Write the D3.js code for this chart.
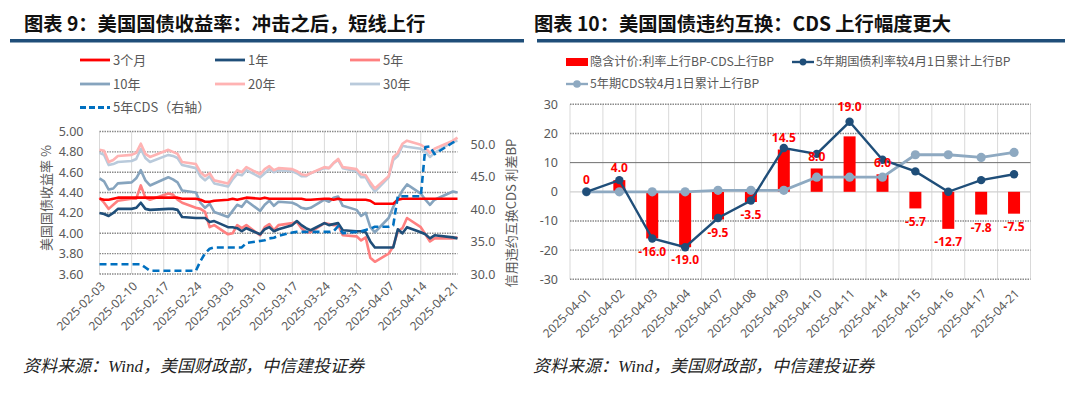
<!DOCTYPE html>
<html>
<head>
<meta charset="utf-8">
<script src="https://cdn.jsdelivr.net/npm/d3@7"></script>
<style>
  body { margin: 0; background: #fff; }
</style>
</head>
<body>
<script>
// ---- left chart: US treasury yields (%), business days ----
const bondDates = [
  '2025-02-03', '2025-02-04', '2025-02-05', '2025-02-06', '2025-02-07',
  '2025-02-10', '2025-02-11', '2025-02-12', '2025-02-13', '2025-02-14',
  '2025-02-18', '2025-02-19', '2025-02-20', '2025-02-21',
  '2025-02-24', '2025-02-25', '2025-02-26', '2025-02-27', '2025-02-28',
  '2025-03-03', '2025-03-04', '2025-03-05', '2025-03-06', '2025-03-07',
  '2025-03-10', '2025-03-11', '2025-03-12', '2025-03-13', '2025-03-14',
  '2025-03-17', '2025-03-18', '2025-03-19', '2025-03-20', '2025-03-21',
  '2025-03-24', '2025-03-25', '2025-03-26', '2025-03-27', '2025-03-28',
  '2025-03-31', '2025-04-01', '2025-04-02', '2025-04-03', '2025-04-04',
  '2025-04-07', '2025-04-08', '2025-04-09', '2025-04-10', '2025-04-11',
  '2025-04-14', '2025-04-15', '2025-04-16', '2025-04-17',
  '2025-04-21', '2025-04-22'
]
const y3m = [
  4.34, 4.33, 4.33, 4.34, 4.35, 4.35, 4.35, 4.35, 4.35, 4.35, 4.35, 4.35, 4.35, 4.34,
  4.34, 4.33, 4.31, 4.31, 4.32, 4.33, 4.34, 4.33, 4.34, 4.35, 4.34, 4.35, 4.34, 4.34, 4.34,
  4.34, 4.34, 4.34, 4.33, 4.33, 4.34, 4.34, 4.33, 4.34, 4.33, 4.33, 4.33, 4.33, 4.32, 4.29,
  4.29, 4.29, 4.33, 4.34, 4.34, 4.34, 4.34, 4.34, 4.34, 4.34, 4.34
]
const y1y = [
  4.20, 4.19, 4.17, 4.20, 4.24, 4.24, 4.25, 4.30, 4.24, 4.23, 4.24, 4.24, 4.23, 4.16,
  4.15, 4.15, 4.15, 4.11, 4.12, 4.06, 4.06, 4.05, 4.02, 4.05, 3.99, 4.04, 4.06, 4.02, 4.04,
  4.08, 4.12, 4.08, 4.05, 4.03, 4.10, 4.08, 4.09, 4.10, 4.03, 4.02, 4.02, 4.01, 3.92, 3.86,
  3.86, 3.86, 4.04, 4.00, 4.06, 4.01, 3.99, 3.95, 3.98, 3.96, 3.95
]
const y5y = [
  4.35, 4.30, 4.24, 4.28, 4.32, 4.34, 4.34, 4.47, 4.35, 4.33, 4.39, 4.38, 4.33, 4.30,
  4.25, 4.24, 4.21, 4.06, 4.08, 3.99, 4.00, 4.08, 4.05, 4.08, 3.98, 4.06, 4.09, 4.03, 4.08,
  4.10, 4.11, 4.05, 4.01, 4.01, 4.10, 4.09, 4.08, 4.08, 3.98, 3.97, 3.93, 3.96, 3.76, 3.72,
  3.80, 3.87, 4.02, 4.05, 4.15, 4.06, 3.99, 3.92, 3.95, 3.95, 3.96
]
const y10y = [
  4.54, 4.51, 4.43, 4.44, 4.49, 4.50, 4.54, 4.62, 4.52, 4.47, 4.55, 4.53, 4.50, 4.42,
  4.40, 4.30, 4.25, 4.29, 4.21, 4.16, 4.22, 4.28, 4.26, 4.32, 4.22, 4.28, 4.32, 4.27, 4.31,
  4.30, 4.28, 4.25, 4.24, 4.25, 4.33, 4.31, 4.35, 4.36, 4.27, 4.23, 4.17, 4.20, 4.06, 4.01,
  4.15, 4.26, 4.34, 4.42, 4.48, 4.39, 4.33, 4.28, 4.33, 4.41, 4.40
]
const y20y = [
  4.82, 4.81, 4.70, 4.72, 4.76, 4.77, 4.79, 4.88, 4.78, 4.75, 4.82, 4.80, 4.78, 4.70,
  4.68, 4.60, 4.56, 4.59, 4.52, 4.49, 4.56, 4.62, 4.60, 4.65, 4.58, 4.63, 4.66, 4.62, 4.64,
  4.63, 4.61, 4.58, 4.57, 4.59, 4.65, 4.64, 4.69, 4.73, 4.65, 4.63, 4.58, 4.57, 4.50, 4.44,
  4.56, 4.75, 4.79, 4.88, 4.91, 4.87, 4.84, 4.79, 4.83, 4.91, 4.94
]
const y30y = [
  4.79, 4.77, 4.67, 4.68, 4.70, 4.71, 4.73, 4.83, 4.74, 4.70, 4.77, 4.76, 4.74, 4.67,
  4.64, 4.56, 4.52, 4.56, 4.49, 4.46, 4.53, 4.58, 4.57, 4.62, 4.55, 4.59, 4.63, 4.60, 4.62,
  4.61, 4.59, 4.56, 4.56, 4.59, 4.64, 4.64, 4.69, 4.72, 4.64, 4.61, 4.55, 4.55, 4.47, 4.41,
  4.55, 4.72, 4.76, 4.86, 4.85, 4.83, 4.80, 4.75, 4.79, 4.90, 4.91
]
// 5y CDS spread, bp (right axis)
const cds5y = [
  31.5, 31.5, 31.5, 31.5, 31.5, 31.5, 31.5, 31.5, 31.0, 30.5, 30.5, 30.5, 30.5, 30.5,
  30.5, 32.0, 33.2, 33.9, 34.1, 34.1, 34.1, 34.1, 34.1, 34.8, 35.1, 35.2, 35.5, 35.6, 35.9,
  36.4, 36.5, 36.5, 36.5, 36.5, 36.5, 36.5, 36.6, 37.4, 36.3, 36.5, 36.6, 36.8, 37.0, 37.3,
  37.3, 37.5, 42.0, 42.0, 42.0, 42.0, 49.6, 49.7, 48.5, 50.3, 50.6
]
const weekTicks = [
  '2025-02-03', '2025-02-10', '2025-02-17', '2025-02-24', '2025-03-03', '2025-03-10',
  '2025-03-17', '2025-03-24', '2025-03-31', '2025-04-07', '2025-04-14', '2025-04-21'
]
const yieldTicks = [3.6, 3.8, 4.0, 4.2, 4.4, 4.6, 4.8, 5.0]
const cdsTicks = [30, 35, 40, 45, 50]

// ---- right chart: cumulative change since 2025-04-01, bp ----
const cdsDays = [
  '2025-04-01', '2025-04-02', '2025-04-03', '2025-04-04', '2025-04-07', '2025-04-08', '2025-04-09',
  '2025-04-10', '2025-04-11', '2025-04-14', '2025-04-15', '2025-04-16', '2025-04-17', '2025-04-21'
]
const impliedGap = [0, 4.0, -16.0, -19.0, -9.5, -3.5, 14.5, 8.0, 19.0, 6.0, -5.7, -12.7, -7.8, -7.5]
const rateChange = [0, 4, -16, -19, -9, -3, 15, 13, 24, 11, 7, 0, 4, 6]
const cdsChange = [0, 0, 0, 0, 0.5, 0.5, 0.5, 5, 5, 5, 12.7, 12.7, 11.8, 13.5]
const bpTicks = [-30, -20, -10, 0, 10, 20, 30]

const svg = d3.select('body').append('svg').attr('width', 1080).attr('height', 395)
const parse = d3.timeParse('%Y-%m-%d')
const fmt = d3.formatLocale({ decimal: '.', thousands: ',', grouping: [3], currency: ['', ''], minus: '-' }).format
const gray = '#595959'
const cjk = '"Noto Sans CJK SC", sans-serif'
const num = '"Noto Sans", "Noto Sans CJK SC", sans-serif'

// titles with the blue rule under them
function header (x, x0, x1, title) {
  svg.append('text')
    .attr('x', x).attr('y', 31)
    .attr('font-family', cjk).attr('font-weight', 700).attr('font-size', 19.3)
    .attr('fill', '#111')
    .text(title)
  svg.append('rect')
    .attr('x', x0).attr('y', 39).attr('width', x1 - x0).attr('height', 3.5)
    .attr('fill', '#1F4E79')
}
header(24, 10, 524, '图表 9：美国国债收益率：冲击之后，短线上行')
header(534, 537, 1065, '图表 10：美国国债违约互换：CDS 上行幅度更大')

function footer (x) {
  svg.append('text')
    .attr('x', x).attr('y', 372)
    .attr('font-family', '"Liberation Serif", "Noto Sans CJK SC", serif')
    .attr('font-style', 'italic').attr('font-size', 17)
    .attr('fill', '#222')
    .text('资料来源：Wind，美国财政部，中信建投证券')
}
footer(23)
footer(533)

function dotted (sel) {
  return sel.attr('stroke', '#8a8a8a').attr('stroke-width', 1.4).attr('stroke-dasharray', '1.5,1')
}

// ================= left chart =================
const lx0 = 99.5, lx1 = 457.5, ly0 = 131.5, ly1 = 274
const xL = d3.scaleTime().domain(d3.extent(bondDates, parse)).range([lx0, lx1])
const yL = d3.scaleLinear().domain([3.6, 5.0]).range([ly1, ly0])
const yR = d3.scaleLinear().domain([30, 52]).range([ly1, ly0])

const gl = svg.append('g')

gl.selectAll('.vgrid')
  .data(weekTicks)
  .enter().append('line')
    .attr('x1', d => xL(parse(d))).attr('x2', d => xL(parse(d)))
    .attr('y1', ly0).attr('y2', ly1)
    .attr('stroke', '#d9d9d9').attr('stroke-width', 1)

gl.selectAll('.hgrid')
  .data(yieldTicks)
  .enter().append('line')
    .attr('x1', lx0).attr('x2', lx1)
    .attr('y1', d => yL(d)).attr('y2', d => yL(d))
    .call(dotted)

gl.append('g')
    .attr('transform', 'translate(' + lx0 + ',0)')
    .call(d3.axisLeft(yL).tickValues(yieldTicks).tickFormat(d3.format('.2f')).tickSize(0).tickPadding(16))
    .attr('font-family', num).attr('font-size', 12.5).attr('color', gray)
    .call(g => g.select('.domain').remove())

gl.append('g')
    .attr('transform', 'translate(' + lx1 + ',0)')
    .call(d3.axisRight(yR).tickValues(cdsTicks).tickFormat(d3.format('.1f')).tickSize(0).tickPadding(13))
    .attr('font-family', num).attr('font-size', 12.5).attr('color', gray)
    .call(g => g.select('.domain').remove())

gl.append('g')
    .attr('transform', 'translate(0,' + ly1 + ')')
    .call(d3.axisBottom(xL).tickValues(weekTicks.map(parse)).tickFormat(d3.timeFormat('%Y-%m-%d')).tickSize(0))
    .attr('font-family', num).attr('font-size', 12).attr('color', gray)
    .call(g => g.select('.domain').remove())
  .selectAll('text')
    .attr('y', 0).attr('dy', '0.35em')
    .attr('text-anchor', 'end')
    .attr('transform', 'translate(3,10) rotate(-45)')

gl.append('text')
  .attr('transform', 'translate(46,198) rotate(-90)')
  .attr('text-anchor', 'middle').attr('dy', '0.35em')
  .attr('font-family', cjk).attr('font-size', 13).attr('fill', gray)
  .text('美国国债收益率 %')

gl.append('text')
  .attr('transform', 'translate(511,213) rotate(-90)')
  .attr('text-anchor', 'middle').attr('dy', '0.35em')
  .attr('font-family', cjk).attr('font-size', 13).attr('fill', gray)
  .text('信用违约互换CDS 利差BP')

const bondSeries = [
  { name: '30年', values: y30y, color: '#B9CADB', y: yL },
  { name: '20年', values: y20y, color: '#FFB3B3', y: yL },
  { name: '10年', values: y10y, color: '#86A4BE', y: yL },
  { name: '5年', values: y5y, color: '#FF8080', y: yL },
  { name: '1年', values: y1y, color: '#1F4E79', y: yL },
  { name: '3个月', values: y3m, color: '#FF0000', y: yL },
  { name: '5年CDS（右轴）', values: cds5y, color: '#0070C0', y: yR, dash: '7,4' }
]

bondSeries.forEach(function (s) {
  const line = d3.line()
    .x(function (d, i) { return xL(parse(bondDates[i])) })
    .y(function (d) { return s.y(d) })
  gl.append('path')
    .attr('d', line(s.values))
    .attr('fill', 'none')
    .attr('stroke', s.color)
    .attr('stroke-width', 2.6)
    .attr('stroke-linejoin', 'round')
    .attr('stroke-dasharray', s.dash || null)
})

// legend, in the source order
const legendOrder = ['3个月', '1年', '5年', '10年', '20年', '30年', '5年CDS（右轴）']
const legendCols = [80, 215, 350]
const legendRows = [60, 84, 107.5]
legendOrder.forEach(function (name, i) {
  const s = bondSeries.find(function (d) { return d.name === name })
  const lx = legendCols[i % 3]
  const ly = legendRows[Math.floor(i / 3)]
  gl.append('line')
    .attr('x1', lx).attr('x2', lx + 30).attr('y1', ly).attr('y2', ly)
    .attr('stroke', s.color).attr('stroke-width', 2.8)
    .attr('stroke-dasharray', s.dash ? '6,3' : null)
  gl.append('text')
    .attr('x', lx + 33).attr('y', ly).attr('dy', '0.35em')
    .attr('font-family', cjk).attr('font-size', 13).attr('fill', gray)
    .text(name)
})

// ================= right chart =================
const rx0 = 570, rx1 = 1030.5, ry0 = 104.3, ry1 = 279.3
const xB = d3.scaleBand().domain(cdsDays).range([rx0, rx1])
const yB = d3.scaleLinear().domain([-30, 30]).range([ry1, ry0])
const cx = function (d) { return xB(d) + xB.bandwidth() / 2 }

const gr = svg.append('g')

gr.selectAll('.vgrid')
  .data(cdsDays.map(xB).concat([rx1]))
  .enter().append('line')
    .attr('x1', d => d).attr('x2', d => d)
    .attr('y1', ry0).attr('y2', ry1)
    .attr('stroke', '#d9d9d9').attr('stroke-width', 1)

bpTicks.forEach(function (v) {
  const l = gr.append('line')
    .attr('x1', rx0).attr('x2', rx1).attr('y1', yB(v)).attr('y2', yB(v))
  if (v === 0) l.attr('stroke', '#d0d0d0').attr('stroke-width', 1.2)
  else if (v === 10) l.attr('stroke', '#6e6e6e').attr('stroke-width', 1)
  else l.call(dotted)
})

gr.append('g')
    .attr('transform', 'translate(' + rx0 + ',0)')
    .call(d3.axisLeft(yB).tickValues(bpTicks).tickFormat(fmt('d')).tickSize(0).tickPadding(12))
    .attr('font-family', num).attr('font-size', 12.5).attr('color', gray)
    .call(g => g.select('.domain').remove())

gr.append('g')
    .attr('transform', 'translate(0,' + ry1 + ')')
    .call(d3.axisBottom(xB).tickSize(0))
    .attr('font-family', num).attr('font-size', 12).attr('color', gray)
    .call(g => g.select('.domain').remove())
  .selectAll('text')
    .attr('y', 0).attr('dy', '0.35em')
    .attr('text-anchor', 'end')
    .attr('transform', 'translate(3,12) rotate(-45)')

const barW = 12
gr.selectAll('.bar')
  .data(impliedGap)
  .enter().append('rect')
    .attr('x', (d, i) => cx(cdsDays[i]) - barW / 2)
    .attr('y', d => yB(Math.max(0, d)))
    .attr('width', barW)
    .attr('height', d => Math.abs(yB(d) - yB(0)))
    .attr('fill', '#FF0000')

function markerLine (values, color, width, r) {
  const line = d3.line()
    .x((d, i) => cx(cdsDays[i]))
    .y(d => yB(d))
  gr.append('path')
    .attr('d', line(values))
    .attr('fill', 'none').attr('stroke', color).attr('stroke-width', width)
  gr.selectAll(null)
    .data(values)
    .enter().append('circle')
      .attr('cx', (d, i) => cx(cdsDays[i]))
      .attr('cy', d => yB(d))
      .attr('r', r)
      .attr('fill', color)
}
markerLine(cdsChange, '#8EA9C1', 2.8, 4.6)
markerLine(rateChange, '#1F4E79', 2.4, 4.2)

// the 19.0 label was moved up over the marker by hand in the source
const labelNudge = { '2025-04-11': -18 }
gr.selectAll('.lbl')
  .data(impliedGap)
  .enter().append('text')
    .attr('x', (d, i) => cx(cdsDays[i]))
    .attr('y', function (d, i) {
      const nudge = labelNudge[cdsDays[i]] || 0
      return d >= 0 ? yB(d) - 12 + nudge : yB(d) + 13
    })
    .attr('dy', '0.35em')
    .attr('text-anchor', 'middle')
    .attr('font-family', num).attr('font-weight', 700).attr('font-size', 12)
    .attr('fill', '#FF0000')
    .text(d => d === 0 ? '0' : fmt('.1f')(d))

// legend
gr.append('rect').attr('x', 566).attr('y', 58).attr('width', 22).attr('height', 8).attr('fill', '#FF0000')
gr.append('text').attr('x', 590).attr('y', 62).attr('dy', '0.35em')
  .attr('font-family', cjk).attr('font-size', 12.2).attr('fill', gray)
  .text('隐含计价:利率上行BP-CDS上行BP')

const lineKeys = [
  { x: 792, y: 62, color: '#1F4E79', r: 3.4, text: '5年期国债利率较4月1日累计上行BP' },
  { x: 566, y: 84, color: '#8EA9C1', r: 3.8, text: '5年期CDS较4月1日累计上行BP' }
]
lineKeys.forEach(function (k) {
  gr.append('line').attr('x1', k.x).attr('x2', k.x + 22).attr('y1', k.y).attr('y2', k.y)
    .attr('stroke', k.color).attr('stroke-width', 2.4)
  gr.append('circle').attr('cx', k.x + 11).attr('cy', k.y).attr('r', k.r).attr('fill', k.color)
  gr.append('text').attr('x', k.x + 24).attr('y', k.y).attr('dy', '0.35em')
    .attr('font-family', cjk).attr('font-size', 12.2).attr('fill', gray)
    .text(k.text)
})
</script>
</body>
</html>
